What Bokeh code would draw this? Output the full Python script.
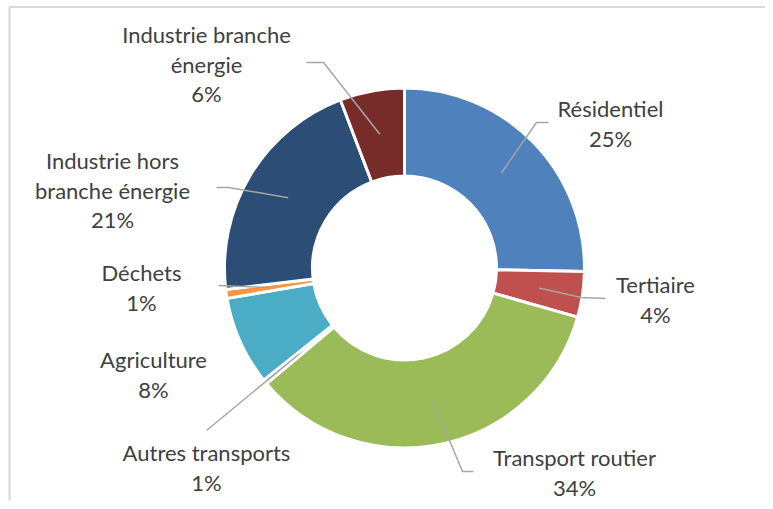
import math
from bokeh.plotting import figure
from bokeh.models import Range1d, ColumnDataSource
from bokeh.core.properties import value
from bokeh.embed import file_html
from bokeh.resources import INLINE

# ---- data ----
categories = ["Résidentiel", "Tertiaire", "Transport routier", "Autres transports",
              "Agriculture", "Déchets", "Industrie hors branche énergie",
              "Industrie branche énergie"]
shares = [25.3, 4.1, 34.5, 0.4, 8.0, 0.8, 21.1, 5.8]
pct_labels = ["25%", "4%", "34%", "1%", "8%", "1%", "21%", "6%"]
colors = ["#4F81BD", "#C0504D", "#9BBB59", "#8064A2", "#4BACC6", "#F79646",
          "#2C4D75", "#772C2A"]

# ---- layout (picture pixel coordinates) ----
W, H = 765, 501
CX, CY = 404, 267.5
R_OUT, R_IN = 180, 92
label_lines = {
    "Résidentiel": ["Résidentiel"],
    "Tertiaire": ["Tertiaire"],
    "Transport routier": ["Transport routier"],
    "Autres transports": ["Autres transports"],
    "Agriculture": ["Agriculture"],
    "Déchets": ["Déchets"],
    "Industrie hors branche énergie": ["Industrie hors", "branche énergie"],
    "Industrie branche énergie": ["Industrie branche", "énergie"],
}
label_pos = {  # center x, y of first line
    "Résidentiel": (610, 108),
    "Tertiaire": (655, 284),
    "Transport routier": (574, 457),
    "Autres transports": (206, 452),
    "Agriculture": (153, 359),
    "Déchets": (141, 272),
    "Industrie hors branche énergie": (112, 160),
    "Industrie branche énergie": (206, 34),
}
leader_start = {  # label-side points of leader lines
    "Résidentiel": [(548, 122), (536, 122)],
    "Tertiaire": [(605, 298), (581, 297)],
    "Transport routier": [(473, 471), (462, 471)],
    "Autres transports": [(206, 430)],
    "Agriculture": None,
    "Déchets": [(218, 285)],
    "Industrie hors branche énergie": [(216, 187), (228, 187)],
    "Industrie branche énergie": [(306, 62), (323, 62)],
}
LINE_H = 29.5

p = figure(width=W, height=H, output_backend="svg", toolbar_location=None,
           x_range=Range1d(0, W), y_range=Range1d(-H, 0),
           min_border=0, x_axis_location=None, y_axis_location=None)
p.grid.visible = False
p.outline_line_color = None
p.background_fill_color = "white"
p.border_fill_color = "white"

# frame (top and left edges visible)
p.line([9, 9], [-H, -6.5], line_color="#D9D9D9", line_width=2)
p.line([9, W], [-6.5, -6.5], line_color="#D9D9D9", line_width=2)

total = sum(shares)
starts, ends, mids = [], [], []
cum = 0.0
for s in shares:
    a0 = cum / total
    cum += s
    a1 = cum / total
    starts.append(math.pi / 2 - a0 * 2 * math.pi)
    ends.append(math.pi / 2 - a1 * 2 * math.pi)
    mids.append((a0 + a1) / 2 * 2 * math.pi)  # clockwise from top

src = ColumnDataSource(dict(start=starts, end=ends, color=colors, cat=categories))
p.annular_wedge(x=CX, y=-CY, inner_radius=R_IN, outer_radius=R_OUT,
                start_angle="start", end_angle="end", direction="clock",
                fill_color="color", line_color="white", line_width=3, source=src)

# leader lines
r_mid = (R_IN + R_OUT) / 2
for cat, th in zip(categories, mids):
    pts = leader_start[cat]
    if pts is None:
        continue
    ex = CX + r_mid * math.sin(th)
    ey = CY - r_mid * math.cos(th)
    xs = [q[0] for q in pts] + [ex]
    ys = [-q[1] for q in pts] + [-ey]
    p.line(xs, ys, line_color="#A6A6A6", line_width=1.5)

# labels
tx, ty, tt = [], [], []
for cat, pl in zip(categories, pct_labels):
    x0, y0 = label_pos[cat]
    lines = label_lines[cat] + [pl]
    for i, ln in enumerate(lines):
        tx.append(x0)
        ty.append(-(y0 + i * LINE_H))
        tt.append(ln)
p.text(x=tx, y=ty, text=tt, text_align="center", text_baseline="middle",
       text_font=value("Lato"), text_font_size="22px", text_color="#404040")

open("out.html", "w").write(file_html(p, INLINE))
